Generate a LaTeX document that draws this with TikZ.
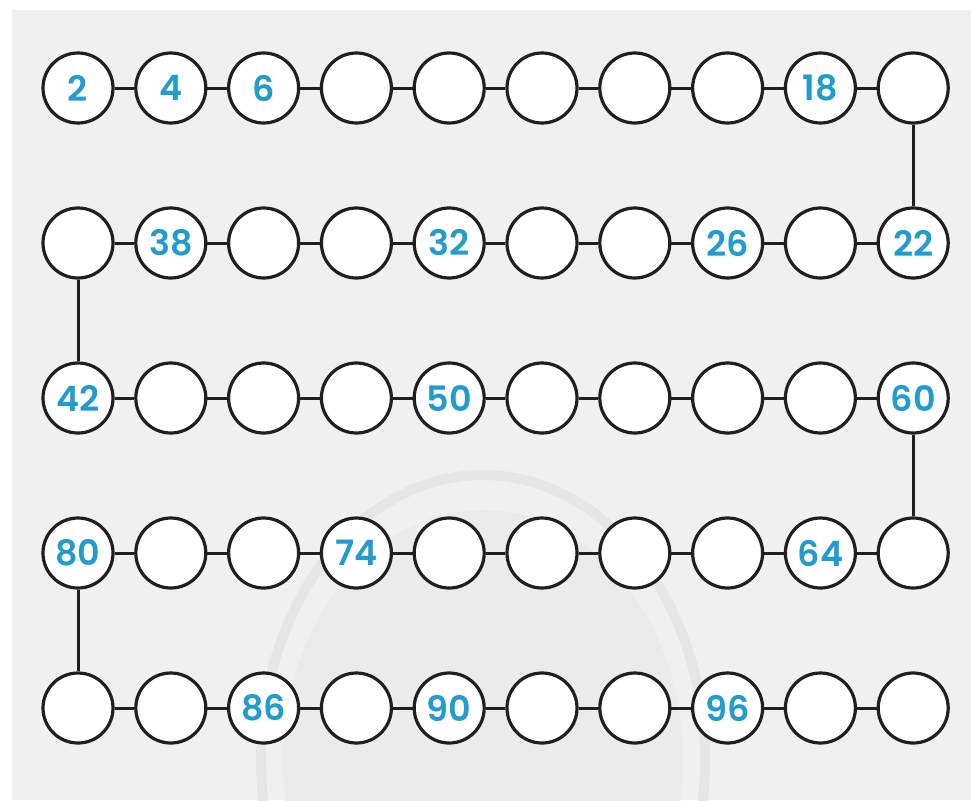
\documentclass[tikz,border=0pt]{standalone}
\usepackage{fontspec}
\newfontfamily\numfont{Poppins SemiBold}
\definecolor{numblue}{RGB}{34,156,206}
\definecolor{bggray}{RGB}{240,240,240}
\definecolor{wmring}{RGB}{230,230,230}
\definecolor{wmfill}{RGB}{235,235,235}
\begin{document}
\begin{tikzpicture}[x=1pt,y=-1pt,
  ball/.style={circle,draw=black!88,line width=3.2pt,fill=white,minimum size=70pt,inner sep=0pt,
    font=\numfont\fontsize{35}{35}\selectfont,text=numblue},
  link/.style={draw=black!88,line width=3pt}]
\useasboundingbox (0,0) rectangle (971,800);
\fill[white] (0,0) rectangle (971,800);
\fill[bggray] (12,10) rectangle (971,800);
% faint watermark
\begin{scope}
\clip (12,10) rectangle (971,800);
\fill[wmfill] (483,760) ellipse [x radius=200, y radius=250];
\draw[wmring,line width=10pt] (483,760) ellipse [x radius=222, y radius=285];
\end{scope}
% nodes
\foreach \r/\lbls [count=\ri from 1] in {
  1/{2,4,6,,,,,,18,},
  2/{,38,,,32,,,26,,22},
  3/{42,,,,50,,,,,60},
  4/{80,,,74,,,,,64,},
  5/{,,86,,90,,,96,,}} {
  \foreach \t [count=\ci from 1] in \lbls {
    \node[ball] (n\r-\ci) at ({78+92.8*(\ci-1)},{88+155*(\r-1)}) {\t};
  }
}
% horizontal links
\foreach \r in {1,...,5} {
  \foreach \c [evaluate=\c as \d using int(\c+1)] in {1,...,9} {
    \draw[link] (n\r-\c) -- (n\r-\d);
  }
}
% vertical links
\draw[link] (n1-10) -- (n2-10);
\draw[link] (n2-1) -- (n3-1);
\draw[link] (n3-10) -- (n4-10);
\draw[link] (n4-1) -- (n5-1);
\end{tikzpicture}
\end{document}
